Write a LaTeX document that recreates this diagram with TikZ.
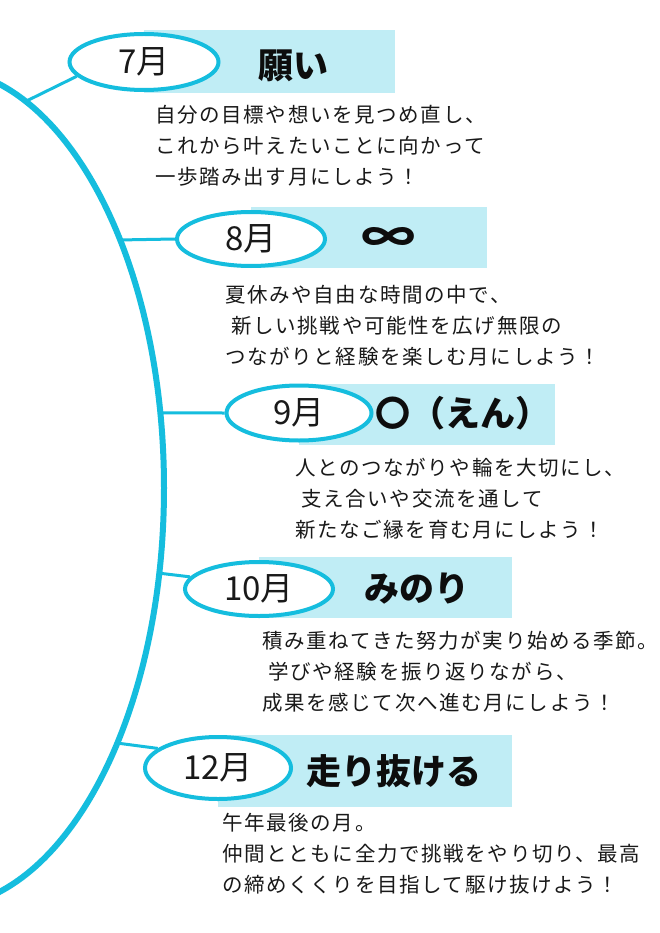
\documentclass[tikz,border=0pt]{standalone}
\usepackage{fontspec}
\setmainfont{Noto Sans CJK JP}
\newfontfamily\jpbody[LetterSpace=8]{Noto Sans CJK JP}
\usetikzlibrary{shapes.geometric}
\definecolor{lineblue}{RGB}{21,189,222}
\definecolor{boxblue}{RGB}{192,237,245}
\newcommand{\mlabel}[1]{\raisebox{-4pt}{#1}}
\begin{document}
\begin{tikzpicture}[x=1pt,y=-1pt,
  monthnode/.style={ellipse, draw=lineblue, line width=4pt, fill=white, inner sep=0pt,
    font=\fontsize{33}{33}\selectfont, text=black!90},
  bandbox/.style={fill=boxblue, draw=none, anchor=north west, inner sep=0pt},
  titletext/.style={font=\fontsize{35}{35}\selectfont\bfseries, text=black!95, inner sep=0pt},
  bodytext/.style={anchor=west, align=left, font=\jpbody\fontsize{20.5}{31}\selectfont, inner sep=0pt, text=black!90},
  connector/.style={draw=lineblue, line width=3pt},
  ]
\useasboundingbox (0,0) rectangle (660,933);
\fill[white] (0,0) rectangle (660,933);
% big arc
\begin{scope}
\clip (0,0) rectangle (660,933);
\draw[lineblue, line width=6pt] (-63,488) ellipse [x radius=227pt, y radius=420pt];
\end{scope}
% points on the arc
\coordinate (c7) at ({-63+227*cos(67)},{488-420*sin(67)});
\coordinate (c8) at ({-63+227*cos(36.2)},{488-420*sin(36.2)});
\coordinate (c9) at ({-63+227*cos(10.3)},{488-420*sin(10.3)});
\coordinate (c10) at ({-63+227*cos(-11.7)},{488-420*sin(-11.7)});
\coordinate (c12) at ({-63+227*cos(-37.4)},{488-420*sin(-37.4)});
% bands
\node[bandbox, minimum width=251pt, minimum height=63pt] (b7) at (144,30) {};
\node[bandbox, minimum width=236pt, minimum height=61pt] (b8) at (251,207) {};
\node[bandbox, minimum width=256pt, minimum height=61pt] (b9) at (299,384) {};
\node[bandbox, minimum width=253pt, minimum height=61pt] (b10) at (259,557) {};
\node[bandbox, minimum width=294pt, minimum height=72pt] (b12) at (218,735) {};
% month ellipses
\node[monthnode, minimum width=149pt, minimum height=56pt] (e7) at (144,62) {\mlabel{7月}};
\node[monthnode, minimum width=148pt, minimum height=54pt] (e8) at (251,239) {\mlabel{8月}};
\node[monthnode, minimum width=145pt, minimum height=55pt] (e9) at (299,413) {\mlabel{9月}};
\node[monthnode, minimum width=148pt, minimum height=54pt] (e10) at (259,589) {\mlabel{10月}};
\node[monthnode, minimum width=146pt, minimum height=62pt] (e12) at (218,768) {\mlabel{12月}};
% connectors
\draw[connector] (c7) -- (e7.192);
\draw[connector] (c8) -- (e8.west);
\draw[connector] (c9) -- (e9.west);
\draw[connector] (c10) -- (e10.170);
\draw[connector] (c12) -- (e12.162);
% titles
\node[titletext] (t7) at (293,66) {願い};
\node[titletext] (t8) at (389,240) {\scalebox{1.55}[1.2]{∞}};
\node[titletext] (t9) at (463,413) {〇（えん）};
\node[titletext] (t10) at (417,589) {みのり};
\node[titletext] (t12) at (394,771) {走り抜ける};
% body texts
\node[bodytext] (p7) at (155,146) {自分の目標や想いを見つめ直し、\\これから叶えたいことに向かって\\一歩踏み出す月にしよう！};
\node[bodytext] (p8) at (225,326) {夏休みや自由な時間の中で、\\\hspace*{0.3em}新しい挑戦や可能性を広げ無限の\\つながりと経験を楽しむ月にしよう！};
\node[bodytext] (p9) at (295,499) {人とのつながりや輪を大切にし、\\\hspace*{0.3em}支え合いや交流を通して\\新たなご縁を育む月にしよう！};
\node[bodytext] (p10) at (262,672) {積み重ねてきた努力が実り始める季節。\\\hspace*{0.3em}学びや経験を振り返りながら、\\成果を感じて次へ進む月にしよう！};
\node[bodytext] (p12) at (222,854) {午年最後の月。\\仲間とともに全力で挑戦をやり切り、最高\\の締めくくりを目指して駆け抜けよう！};
\end{tikzpicture}
\end{document}
